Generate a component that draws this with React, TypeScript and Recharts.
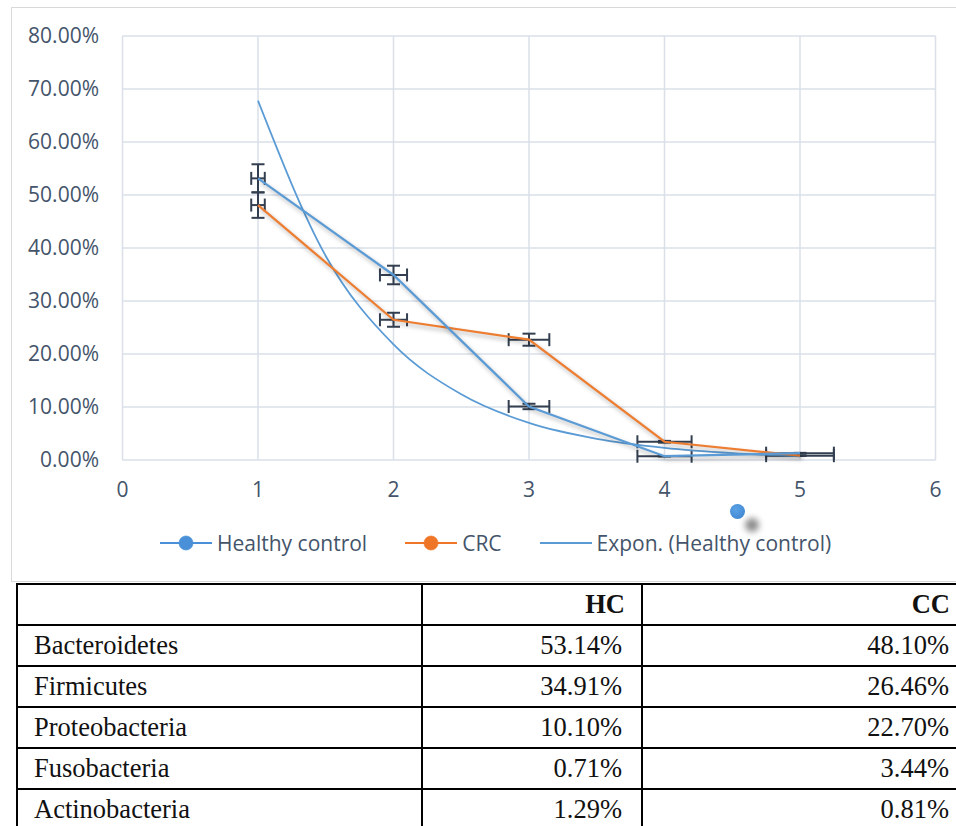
import type { ReactElement } from 'react';
import { CartesianGrid, ComposedChart, ErrorBar, Scatter, XAxis, YAxis } from 'recharts';

const phyla = ['Bacteroidetes', 'Firmicutes', 'Proteobacteria', 'Fusobacteria', 'Actinobacteria'];
const xValues = [1, 2, 3, 4, 5];
const healthyControl = [53.14, 34.91, 10.1, 0.71, 1.29];
const crc = [48.1, 26.46, 22.7, 3.44, 0.81];

// error bars (horizontal in x units, vertical in %)
const xError = [0.05, 0.1, 0.15, 0.2, 0.25];
const healthyYError = [2.66, 1.75, 0.51, 0.04, 0.06];
const crcYError = [2.41, 1.32, 1.14, 0.17, 0.04];

// exponential trendline
const trendX = [1, 1.5, 2, 2.5, 3, 3.5, 4, 4.5, 5];
const trendY = [67.8, 38.5, 21.8, 12.4, 7.0, 4.0, 2.3, 1.3, 0.7];

const xTicks = [0, 1, 2, 3, 4, 5, 6];
const yTicks = [0, 10, 20, 30, 40, 50, 60, 70, 80];

const BLUE = '#5b9bd5';
const ORANGE = '#ed7d31';
const ERR = '#333f50';
const TEXT = '#44546a';
const FONT = '"Open Sans", sans-serif';

const healthyData = xValues.map((x, i) => ({
  x,
  y: healthyControl[i],
  ex: xError[i],
  ey: healthyYError[i],
}));
const crcData = xValues.map((x, i) => ({ x, y: crc[i], ex: xError[i], ey: crcYError[i] }));
const trendData = trendX.map((x, i) => ({ x, y: trendY[i] }));

function NoMarker(): ReactElement {
  return <g />;
}

function LegendIcon({ color, dot }: { readonly color: string; readonly dot: boolean }): ReactElement {
  return (
    <svg width={52} height={18} style={{ display: 'block' }}>
      <line x1={0} y1={9} x2={52} y2={9} stroke={color} strokeWidth={2} />
      {dot ? <circle cx={26} cy={9} r={7} fill={color} stroke={color} strokeOpacity={0.7} /> : null}
    </svg>
  );
}

const legendItems = [
  { label: 'Healthy control', color: '#4a90d9', dot: true },
  { label: 'CRC', color: '#ee7626', dot: true },
  { label: 'Expon. (Healthy control)', color: BLUE, dot: false },
];

function fmt(v: number): string {
  return `${v.toFixed(2)}%`;
}

export default function App(): ReactElement {
  const cell = {
    border: '2px solid #000',
    padding: '0 16px',
    height: 39.3,
    fontFamily: '"Liberation Serif", "Times New Roman", serif',
    fontSize: 26.5,
    color: '#111',
    lineHeight: '39px',
    boxSizing: 'border-box',
  } as const;
  const lastCell = { ...cell, textAlign: 'right', borderRight: 'none' } as const;

  return (
    <div style={{ position: 'relative', width: 956, height: 826, overflow: 'hidden' }}>
      <style>{`
        body { margin: 0; }
        .series-shadow .recharts-scatter-line path {
          filter: drop-shadow(2px 3px 2px rgba(0, 0, 0, 0.3));
        }
      `}</style>

      <div
        style={{
          position: 'absolute',
          left: 11,
          top: 7,
          width: 960,
          height: 573,
          border: '1px solid #d9d9d9',
          background: '#fff',
        }}
      >
        <ComposedChart width={945} height={573} margin={{ top: 28, right: 21.5, bottom: 0, left: 0 }}>
          <CartesianGrid stroke="#dadfe8" strokeWidth={1.5} />
          <XAxis
            type="number"
            dataKey="x"
            domain={[0, 6]}
            ticks={xTicks}
            interval={0}
            axisLine={false}
            tickLine={false}
            tickSize={0}
            tickMargin={22}
            height={121}
            tick={{ fill: TEXT, fontSize: 21, fontFamily: FONT }}
          />
          <YAxis
            type="number"
            dataKey="y"
            domain={[0, 80]}
            ticks={yTicks}
            interval={0}
            axisLine={false}
            tickLine={false}
            tickSize={0}
            tickMargin={23.5}
            width={110.5}
            tickFormatter={(v: number) => fmt(v)}
            tick={{ fill: TEXT, fontSize: 21, fontFamily: FONT }}
          />
          <Scatter
            name="Expon. (Healthy control)"
            data={trendData}
            fill={BLUE}
            line={{ stroke: BLUE, strokeWidth: 1.75 }}
            lineJointType="monotoneX"
            shape={NoMarker}
            isAnimationActive={false}
          />
          <Scatter
            name="CRC"
            className="series-shadow"
            data={crcData}
            fill={ORANGE}
            line={{ stroke: ORANGE, strokeWidth: 2.25 }}
            shape={NoMarker}
            isAnimationActive={false}
          >
            <ErrorBar dataKey="ex" direction="x" width={6.5} stroke={ERR} strokeWidth={2} isAnimationActive={false} />
            <ErrorBar dataKey="ey" direction="y" width={6.5} stroke={ERR} strokeWidth={2} isAnimationActive={false} />
          </Scatter>
          <Scatter
            name="Healthy control"
            className="series-shadow"
            data={healthyData}
            fill={BLUE}
            line={{ stroke: BLUE, strokeWidth: 2.25 }}
            shape={NoMarker}
            isAnimationActive={false}
          >
            <ErrorBar dataKey="ex" direction="x" width={6.5} stroke={ERR} strokeWidth={2} isAnimationActive={false} />
            <ErrorBar dataKey="ey" direction="y" width={6.5} stroke={ERR} strokeWidth={2} isAnimationActive={false} />
          </Scatter>
        </ComposedChart>

        <div
          style={{
            position: 'absolute',
            left: 148,
            top: 521,
            display: 'flex',
            alignItems: 'center',
            gap: 38,
            fontFamily: FONT,
            fontSize: 21,
            color: TEXT,
            whiteSpace: 'nowrap',
          }}
        >
          {legendItems.map((item) => (
            <div key={item.label} style={{ display: 'flex', alignItems: 'center', gap: 5 }}>
              <LegendIcon color={item.color} dot={item.dot} />
              <span>{item.label}</span>
            </div>
          ))}
        </div>

        {/* stray marker left over in the source figure */}
        <div
          style={{
            position: 'absolute',
            left: 733,
            top: 510,
            width: 14,
            height: 14,
            borderRadius: '50%',
            background: 'rgba(0,0,0,0.45)',
            filter: 'blur(3px)',
          }}
        />
        <div
          style={{
            position: 'absolute',
            left: 718,
            top: 496,
            width: 15,
            height: 15,
            borderRadius: '50%',
            background: 'radial-gradient(circle at 40% 35%, #5aa2e6, #3a80cc)',
          }}
        />
      </div>

      <table
        style={{
          position: 'absolute',
          left: 16,
          top: 583,
          width: 960,
          borderCollapse: 'collapse',
          tableLayout: 'fixed',
        }}
      >
        <colgroup>
          <col style={{ width: 405 }} />
          <col style={{ width: 220 }} />
          <col />
        </colgroup>
        <tbody>
          <tr>
            <td style={cell} />
            <td style={{ ...cell, textAlign: 'right', fontWeight: 700 }}>HC</td>
            <td style={{ ...lastCell, fontWeight: 700, paddingRight: 26 }}>CC</td>
          </tr>
          {phyla.map((name, i) => (
            <tr key={name}>
              <td style={cell}>{name}</td>
              <td style={{ ...cell, textAlign: 'right', paddingRight: 19 }}>{fmt(healthyControl[i])}</td>
              <td style={{ ...lastCell, paddingRight: 27 }}>{fmt(crc[i])}</td>
            </tr>
          ))}
        </tbody>
      </table>
    </div>
  );
}
